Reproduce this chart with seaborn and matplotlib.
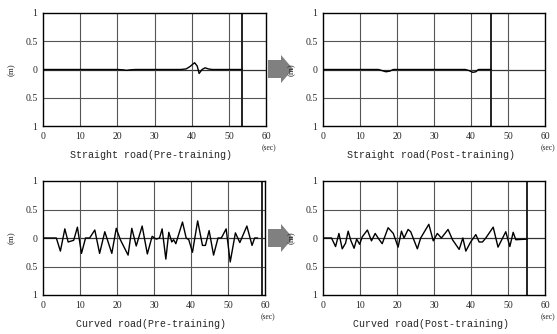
import matplotlib
matplotlib.use("Agg")
import matplotlib.pyplot as plt
import seaborn as sns
import pandas as pd
from matplotlib.patches import Polygon

sns.set_theme(style="white")
plt.rcParams['font.family'] = ['DejaVu Sans']

# ---- data (time in sec, lateral deviation in m) ----
sp_pre_t = [0, 20, 21.5, 22.5, 23.5, 25, 37, 38.5, 39.5, 40.8, 41.5, 42.0, 42.8, 43.6, 44.5, 45.5, 53.6]
sp_pre_y = [0, 0, -0.005, -0.015, -0.005, 0, 0, 0.01, 0.05, 0.12, 0.06, -0.07, 0.0, 0.03, 0.01, 0, 0]
sp_pre_end = 53.6

sp_post_t = [0, 15, 16, 17, 18, 19, 38.5, 39.5, 40.5, 41.3, 42, 45.5]
sp_post_y = [0, 0, -0.02, -0.04, -0.03, 0, 0, -0.02, -0.05, -0.04, 0, 0]
sp_post_end = 45.5

cv_pre_t = [0, 3.6, 4.7, 5.9, 6.8, 8.3, 9.3, 10.4, 11.5, 12.6, 14.0, 15.3, 16.7, 18.6, 19.8, 20.9,
            23.0, 24.0, 25.2, 26.8, 28.2, 29.5, 30.6, 31.5, 32.2, 33.2, 34.0, 34.8, 35.3, 35.9,
            37.7, 38.7, 39.4, 40.4, 41.8, 43.1, 43.9, 44.9, 46.1, 47.3, 48.2, 49.5, 50.6, 52.0,
            53.2, 55.1, 56.5, 57.2, 58.0]
cv_pre_y = [0, 0, -0.23, 0.16, -0.07, -0.04, 0.19, -0.27, 0.0, 0.0, 0.14, -0.27, 0.11, -0.27, 0.17, -0.03,
            -0.30, 0.17, -0.14, 0.21, -0.28, 0.03, -0.02, 0.0, 0.16, -0.37, 0.10, -0.07, -0.03, -0.10,
            0.28, 0.0, -0.03, -0.25, 0.30, -0.13, -0.13, 0.13, -0.30, 0.0, 0.0, 0.16, -0.42, 0.09,
            -0.08, 0.21, -0.13, 0.0, 0.0]
cv_pre_end = 59.2

cv_post_t = [0, 2.3, 3.4, 4.3, 5.2, 6.1, 6.8, 7.5, 8.4, 9.1, 9.9, 10.6, 12.0, 13.1, 14.1, 15.1, 16.0,
             17.6, 19.0, 20.3, 21.2, 21.9, 23.0, 23.7, 25.5, 26.4, 28.6, 29.8, 30.9, 32.0, 33.8,
             35.0, 36.8, 37.8, 38.6, 39.9, 41.3, 42.2, 43.1, 44.0, 46.0, 47.3, 49.4, 50.5, 51.4,
             52.1, 55.2]
cv_post_y = [0, 0, -0.15, 0.08, -0.19, -0.09, 0.12, -0.04, -0.18, -0.02, -0.11, 0.02, 0.14, -0.05, 0.08, -0.02, -0.10,
             0.18, 0.08, -0.16, 0.12, 0.0, 0.15, 0.11, -0.19, 0.0, 0.24, -0.05, 0.08, 0.0, 0.15,
             -0.03, -0.20, 0.0, -0.23, -0.07, 0.06, -0.07, -0.07, 0.0, 0.19, -0.16, 0.11, -0.15, 0.10,
             -0.03, -0.02]
cv_post_end = 55.2

titles = ["Straight road(Pre-training)", "Straight road(Post-training)",
          "Curved road(Pre-training)", "Curved road(Post-training)"]
xticks = [0, 10, 20, 30, 40, 50, 60]
yticks = [1, 0.5, 0, -0.5, -1]
ytick_labels = ["1", "0.5", "0", "0.5", "1"]

panels = [
    (sp_pre_t, sp_pre_y, sp_pre_end),
    (sp_post_t, sp_post_y, sp_post_end),
    (cv_pre_t, cv_pre_y, cv_pre_end),
    (cv_post_t, cv_post_y, cv_post_end),
]

W, H = 557, 334
fig = plt.figure(figsize=(W / 100, H / 100), dpi=100)
fig.patch.set_facecolor("white")

boxes = [(43, 266, 13, 126), (323, 545, 13, 126), (43, 265, 181, 295), (323, 545, 181, 295)]

serif = ["Liberation Serif", "DejaVu Serif"]
mono = ["Liberation Mono", "DejaVu Sans Mono"]

for (t, y, end), (l, r, top, bot), title in zip(panels, boxes, titles):
    ax = fig.add_axes([l / W, 1 - bot / H, (r - l) / W, (bot - top) / H])
    ax.set_facecolor("white")
    df = pd.DataFrame({"t": t, "y": y})
    ax.axhline(0, color="#333333", lw=0.9, zorder=1)
    for gx in [10, 20, 30, 40, 50]:
        ax.axvline(gx, color="#555555", lw=0.8, zorder=1)
    for gy in [0.5, -0.5]:
        ax.axhline(gy, color="#555555", lw=0.8, zorder=1)
    sns.lineplot(data=df, x="t", y="y", ax=ax, color="black", lw=1.0, zorder=3)
    ax.axvline(end, color="#222222", lw=1.4, zorder=2)
    ax.set_xlim(0, 60)
    ax.set_ylim(-1, 1)
    ax.set_xticks(xticks)
    ax.set_yticks(yticks)
    ax.set_yticklabels(ytick_labels)
    ax.set_xlabel("")
    ax.set_ylabel("")
    ax.tick_params(length=0, labelsize=7, pad=4)
    for lab in ax.get_xticklabels() + ax.get_yticklabels():
        lab.set_family(serif)
    for s in ax.spines.values():
        s.set_visible(True)
        s.set_color("black")
        s.set_linewidth(1.0)
    ax.grid(False)
    # title below
    fig.text(((l + r) / 2 - 3) / W, 1 - (bot + 29) / H, title, ha="center", va="center",
             fontsize=7.2, family=mono)
    fig.text((r + 3) / W, 1 - (bot + 22) / H, "(sec)", ha="center", va="center",
             fontsize=5.5, family=serif)
    fig.text((l - 31) / W, 1 - ((top + bot) / 2) / H, "(m)", ha="center", va="center",
             fontsize=6.5, family=serif, rotation=90)

# gray arrows between panels
for cy in [69, 238]:
    x0, x1, x2 = 268, 281, 293
    hb, hh = 9, 14
    pts = [(x0, cy - hb), (x1, cy - hb), (x1, cy - hh), (x2, cy), (x1, cy + hh), (x1, cy + hb), (x0, cy + hb)]
    poly = Polygon([(px / W, 1 - py / H) for px, py in pts], closed=True,
                   transform=fig.transFigure, facecolor="#808080", edgecolor="none")
    fig.patches.append(poly)

fig.savefig("out.png", dpi=100, facecolor="white")
